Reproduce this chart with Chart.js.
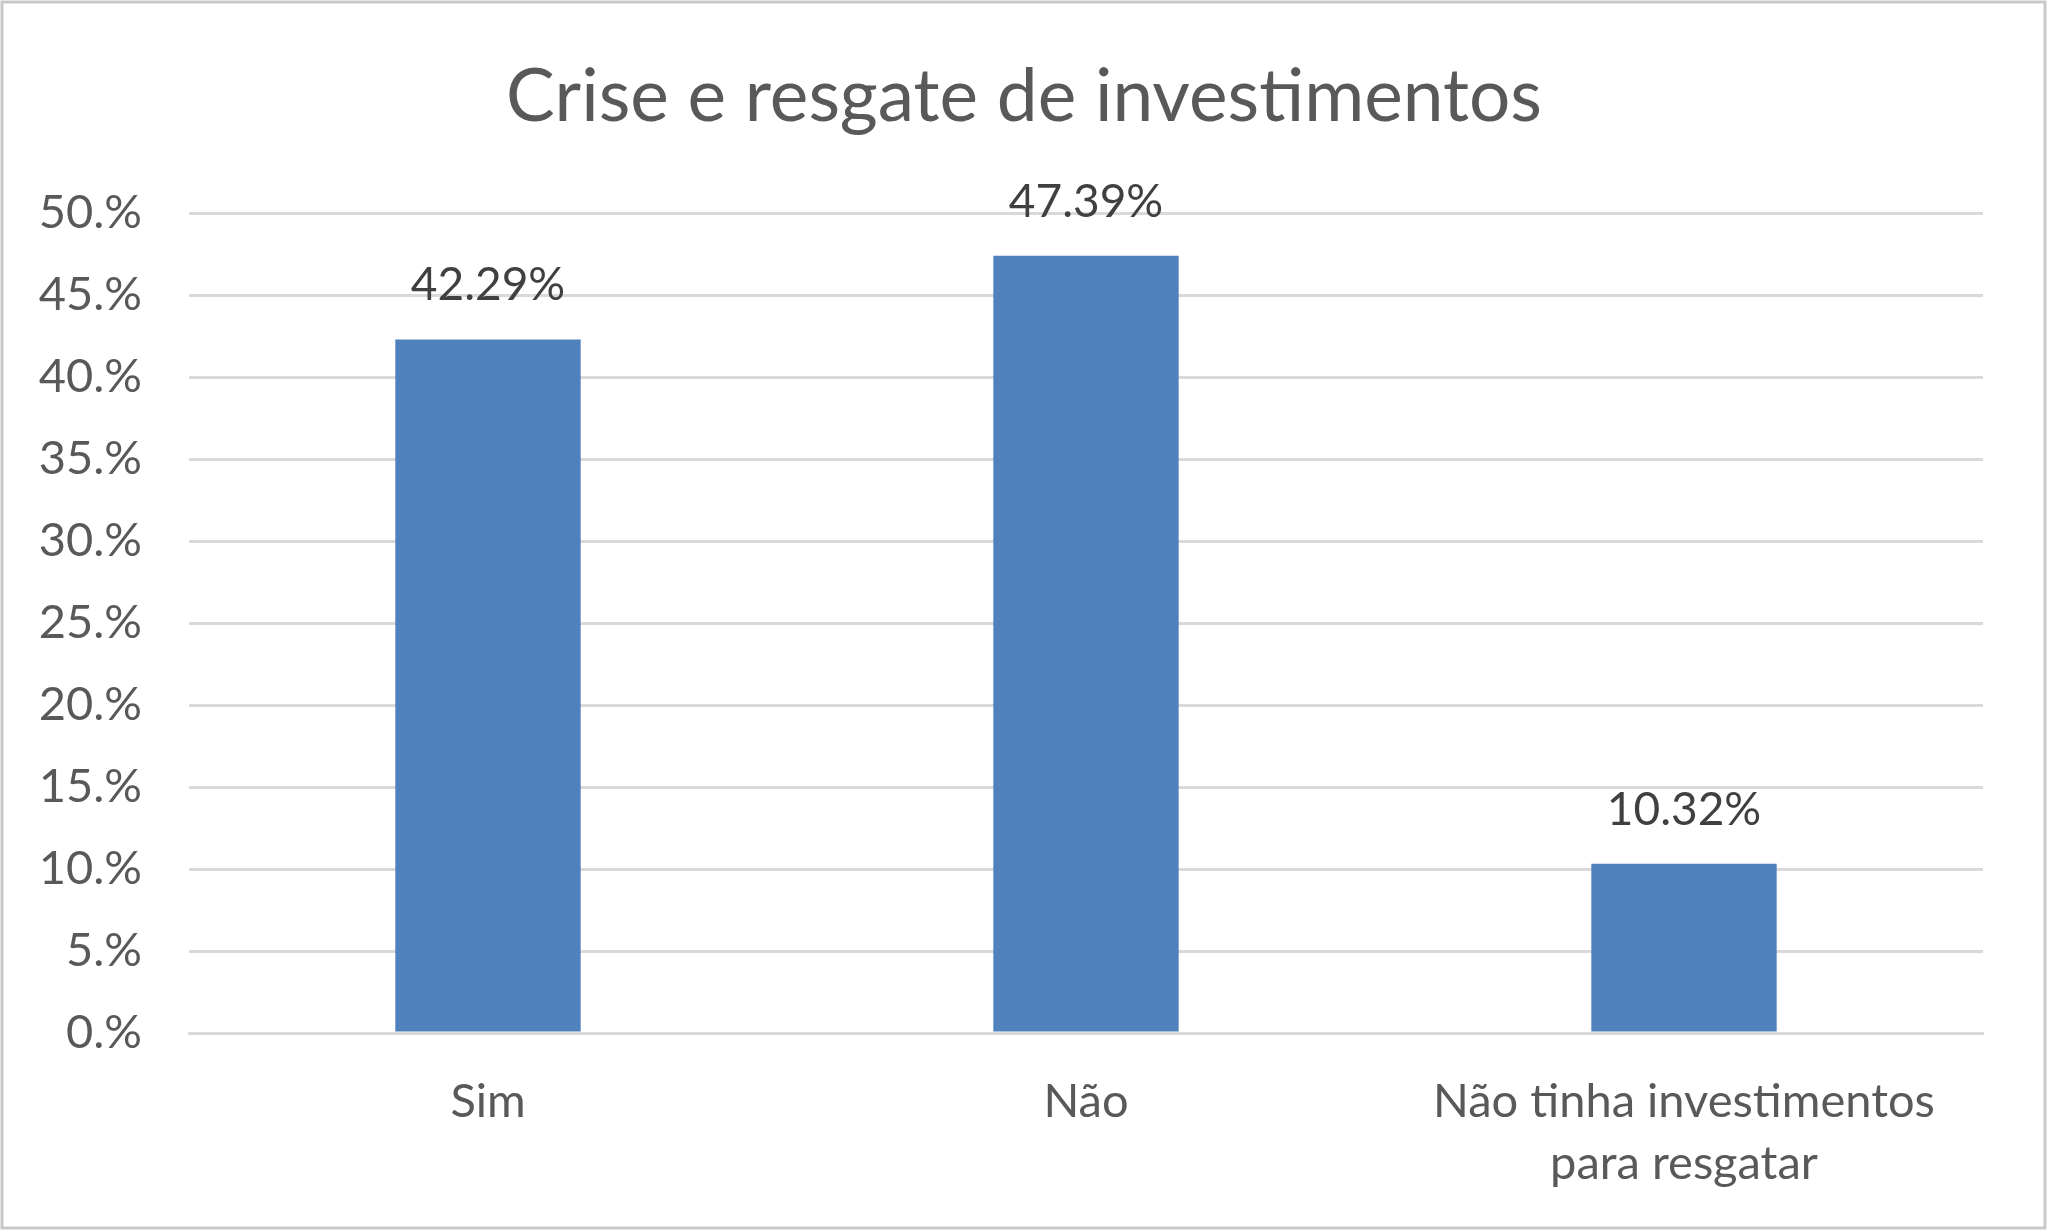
<!DOCTYPE html>
<html>
<head>
<meta charset="utf-8">
<script src="https://cdn.jsdelivr.net/npm/chart.js@4"></script>
<style>
  html, body { margin: 0; padding: 0; background: #ffffff; }
  #wrap { width: 2048px; height: 1231px; }
</style>
</head>
<body>
<div id="wrap"><canvas id="chart" width="2048" height="1231"></canvas></div>
<script>
const chartTitle = "Crise e resgate de investimentos";
const categories = ["Sim", "Não", ["Não tinha investimentos", "para resgatar"]];
const percentValues = [42.29, 47.39, 10.32];
const valueLabels = ["42.29%", "47.39%", "10.32%"];
const yTicks = [0, 5, 10, 15, 20, 25, 30, 35, 40, 45, 50];

const FONT = "Lato, 'Open Sans', sans-serif";

// white background, frame and title centred on the whole canvas
const framePlugin = {
  id: "frame",
  beforeDraw: (chart) => {
    const ctx = chart.ctx;
    ctx.save();
    ctx.fillStyle = "#ffffff";
    ctx.fillRect(0, 0, chart.width, chart.height);
    ctx.strokeStyle = "#c9c9c9";
    ctx.lineWidth = 3;
    ctx.strokeRect(2, 2, chart.width - 5, chart.height - 5);
    ctx.font = `73px ${FONT}`;
    ctx.fillStyle = "#595959";
    ctx.textAlign = "center";
    ctx.textBaseline = "middle";
    ctx.fillText(chartTitle, chart.width / 2, 97);
    ctx.restore();
  },
};

// value labels above each bar
const valueLabelPlugin = {
  id: "valueLabels",
  afterDatasetsDraw: (chart) => {
    const ctx = chart.ctx;
    const meta = chart.getDatasetMeta(0);
    ctx.save();
    ctx.font = `46px ${FONT}`;
    ctx.fillStyle = "#404040";
    ctx.textAlign = "center";
    ctx.textBaseline = "middle";
    meta.data.forEach((bar, i) => {
      ctx.fillText(valueLabels[i], bar.x, bar.y - 54);
    });
    ctx.restore();
  },
};

new Chart(document.getElementById("chart"), {
  type: "bar",
  data: {
    labels: categories,
    datasets: [
      {
        data: percentValues,
        backgroundColor: "#4f81bd",
        borderWidth: 0,
        categoryPercentage: 0.31,
        barPercentage: 1,
      },
    ],
  },
  options: {
    responsive: false,
    animation: false,
    layout: { padding: { left: 0, right: 65, top: 213, bottom: 0 } },
    plugins: {
      legend: { display: false },
      tooltip: { enabled: false },
      title: { display: false },
    },
    scales: {
      x: {
        grid: { display: false },
        border: { display: true, color: "#d9d9d9", width: 3 },
        ticks: {
          color: "#595959",
          padding: 30,
          maxRotation: 0,
          autoSkip: false,
          font: { family: FONT, size: 47, lineHeight: 1.31 },
        },
        afterFit: (scale) => { scale.height = 198; },
      },
      y: {
        min: 0,
        max: 50,
        afterBuildTicks: (scale) => {
          scale.ticks = yTicks.map((v) => ({ value: v }));
        },
        grid: { color: "#d9d9d9", lineWidth: 3, drawTicks: false },
        border: { display: false },
        ticks: {
          color: "#595959",
          padding: 47,
          font: { family: FONT, size: 47 },
          callback: (v) => `${v}.%`,
        },
        afterFit: (scale) => { scale.width = 189; },
      },
    },
  },
  plugins: [framePlugin, valueLabelPlugin],
});
</script>
</body>
</html>
